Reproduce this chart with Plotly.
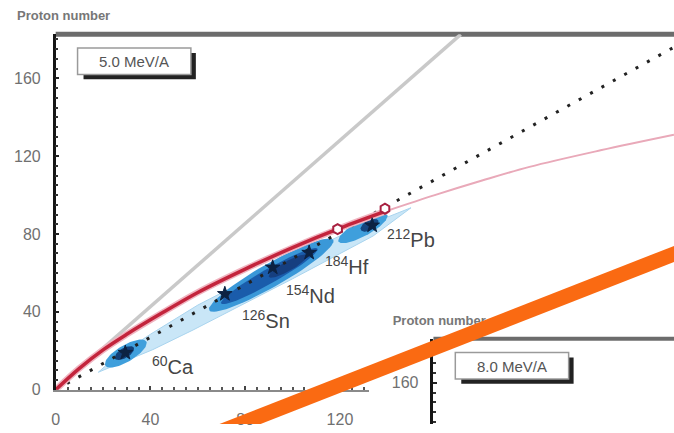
import numpy as np
import plotly.graph_objects as go

W, H = 674, 433
# pixel geometry of the main frame
X0_PX, Y0_PX, TOP_PX = 52, 398, 35
SX = 2.383   # px per neutron
SY = 1.9875  # px per proton
N_MAX = (W - X0_PX) / SX
Z_MAX = (Y0_PX - TOP_PX) / SY

# ---- data -------------------------------------------------------------
# N = Z reference line
nz_n = [0, 171]
nz_z = [0, 182.6]
# dotted guide line
dot_n = [0, 261]
dot_z = [0, 176]
# red curve (thick part, then thin continuation)
red_n = [0, 10, 20, 30, 45, 60, 80, 100, 120, 140]
red_z = [0, 11, 20.5, 28.5, 39.5, 50, 62, 73, 83, 92]
pink_n = [140, 160, 180, 200, 230, 261]
pink_z = [92, 100, 107.5, 114.5, 123, 131]
# open markers on the curve
hex_n = [119, 139]
hex_z = [82.5, 93]
# light band of produced nuclei
band_up_n = [18, 25, 40, 60, 80, 100, 120, 140, 150]
band_up_z = [9, 16.5, 28.5, 43.5, 56, 68, 79, 88.5, 93.5]
band_lo_n = [150, 134, 100, 58, 41, 20, 18]
band_lo_z = [93.5, 79, 57, 30.7, 20.6, 10, 9]
# darker blobs: centre (N, Z), half length / half width in px, tilt in deg
blob_n = [29.6, 91.0, 129.7, 29.0, 90.2, 98.0, 132.5]
blob_z = [18.6, 58.9, 83.0, 18.8, 58.4, 63.5, 84.5]
blob_len = [24, 72, 28, 11, 56, 22, 10]
blob_wid = [8.5, 12, 8, 5, 7.5, 5, 5]
blob_ang = [31, 30, 29, 31, 30, 30, 29]
blob_col = ["#3f9fdc", "#3a98d8", "#3f9fdc", "#123f78", "#1a5cab", "#163f80", "#15457f"]
# nuclei
star_n = [29.4, 71.4, 91.6, 107, 133.6]
star_z = [19, 49.2, 62.8, 70.4, 84.4]
label_text = ["<sup>60</sup>Ca", "<sup>126</sup>Sn", "<sup>154</sup>Nd",
              "<sup>184</sup>Hf", "<sup>212</sup>Pb"]
label_n = [40, 78, 96.5, 113, 139]
label_z = [12.5, 36, 49, 64, 77.5]
# thick orange line crossing the figure
orange_n = [55, 272]
orange_z = [-28.5, 75.0]

x_ticks = [0, 40, 80, 120]
y_ticks = [0, 40, 80, 120, 160]
inset_y_ticks = [160]


def px(x):
    return x / W


def py(y):
    return 1 - y / H


def ellipse(cn, cz, hl, hw, ang, n=72):
    t = np.linspace(0, 2 * np.pi, n)
    a = np.radians(ang)
    u, v = hl * np.cos(t), hw * np.sin(t)
    dx = u * np.cos(a) - v * np.sin(a)
    dy = u * np.sin(a) + v * np.cos(a)
    return cn + dx / SX, cz + dy / SY


fig = go.Figure()

# light band
fig.add_trace(go.Scatter(x=band_up_n + band_lo_n, y=band_up_z + band_lo_z,
                         fill="toself", fillcolor="#c9e6f7", mode="lines",
                         line=dict(color="#a9d4ee", width=1), hoverinfo="skip"))
for cn, cz, hl, hw, ang, col in zip(blob_n, blob_z, blob_len, blob_wid, blob_ang, blob_col):
    ex, ey = ellipse(cn, cz, hl, hw, ang)
    fig.add_trace(go.Scatter(x=ex, y=ey, fill="toself", fillcolor=col, mode="lines",
                             line=dict(color=col, width=0), hoverinfo="skip"))

fig.add_trace(go.Scatter(x=nz_n, y=nz_z, mode="lines",
                         line=dict(color="#c9c9c9", width=3.5)))
fig.add_trace(go.Scatter(x=dot_n, y=dot_z, mode="lines",
                         line=dict(color="#222", width=3, dash="3px,10px")))
fig.add_trace(go.Scatter(x=pink_n, y=pink_z, mode="lines", line_shape="spline",
                         line=dict(color="#e9a9b9", width=2)))
fig.add_trace(go.Scatter(x=red_n, y=red_z, mode="lines", line_shape="spline",
                         line=dict(color="#f0b4c0", width=6.5)))
fig.add_trace(go.Scatter(x=red_n, y=red_z, mode="lines", line_shape="spline",
                         line=dict(color="#c3243c", width=3.5)))
fig.add_trace(go.Scatter(x=hex_n, y=hex_z, mode="markers",
                         marker=dict(symbol="hexagon", size=10, color="white",
                                     line=dict(color="#a82040", width=2))))
fig.add_trace(go.Scatter(x=star_n, y=star_z, mode="markers",
                         marker=dict(symbol="star", size=11, color="#0c2242",
                                     line=dict(color="#0c2242", width=1))))

# bottom axis carrier and inset carrier
fig.add_trace(go.Scatter(x=[], y=[], xaxis="x2", yaxis="y"))
fig.add_trace(go.Scatter(x=[], y=[], xaxis="x3", yaxis="y3"))

# inset title and the orange stroke on a full-figure overlay
fig.add_trace(go.Scatter(x=[(391 - X0_PX) / SX], y=[(Y0_PX - 329) / SY],
                         text=["<b>Proton number</b>"], mode="text",
                         textposition="middle right",
                         textfont=dict(family="Liberation Sans", size=13, color="#777"),
                         xaxis="x4", yaxis="y4"))
fig.add_trace(go.Scatter(x=orange_n, y=orange_z, mode="lines",
                         line=dict(color="#fa6a12", width=15),
                         xaxis="x4", yaxis="y4"))

for t, n, z in zip(label_text, label_n, label_z):
    fig.add_annotation(x=n, y=z, xref="x", yref="y", text=t, showarrow=False,
                       xanchor="left", yanchor="middle",
                       font=dict(family="Liberation Sans", size=20, color="#454545"))

tickfont = dict(family="Liberation Sans", size=16, color="#707070")
inv = dict(visible=False, showgrid=False, zeroline=False)

fig.update_layout(
    width=W, height=H, margin=dict(l=0, r=0, t=0, b=0),
    paper_bgcolor="white", plot_bgcolor="rgba(0,0,0,0)", showlegend=False,
    xaxis=dict(domain=[px(X0_PX), 1], range=[0, N_MAX], anchor="y", **inv),
    yaxis=dict(domain=[py(Y0_PX), py(TOP_PX)], range=[0, Z_MAX], anchor="x2",
               showline=True, linecolor="#151515", linewidth=2.5,
               ticks="inside", ticklen=4, tickwidth=2, tickcolor="#222",
               tickvals=y_ticks, tickfont=tickfont, ticklabelstandoff=9,
               minor=dict(dtick=5, ticks="inside", ticklen=3, tickcolor="#333"),
               showgrid=False, zeroline=False),
    xaxis2=dict(domain=[px(X0_PX), px(367)], range=[0, (367 - X0_PX) / SX], anchor="y",
                showline=True, linecolor="#8a8a8a", linewidth=2,
                ticks="inside", ticklen=4, tickwidth=2, tickcolor="#444",
                tickvals=x_ticks, tickfont=tickfont, ticklabelstandoff=14,
                minor=dict(dtick=5, ticks="inside", ticklen=3, tickcolor="#555"),
                showgrid=False, zeroline=False),
    xaxis3=dict(domain=[px(432), 1], range=[0, (W - 432) / SX], anchor="y3", **inv),
    yaxis3=dict(domain=[0, py(346)], range=[Z_MAX - (H - 346) / SY, Z_MAX], anchor="x3",
                showline=True, linecolor="#151515", linewidth=2.5,
                ticks="inside", ticklen=4, tickwidth=2, tickcolor="#222",
                tickvals=inset_y_ticks, tickfont=tickfont, ticklabelstandoff=9,
                minor=dict(dtick=5, ticks="inside", ticklen=3, tickcolor="#333"),
                showgrid=False, zeroline=False),
    xaxis4=dict(domain=[0, 1], range=[-X0_PX / SX, N_MAX], anchor="y4", **inv),
    yaxis4=dict(domain=[0, 1], range=[-(H - Y0_PX) / SY, Y0_PX / SY], anchor="x4", **inv),
)

# frames and energy boxes
fig.add_shape(type="line", xref="paper", yref="paper", x0=px(X0_PX), x1=1,
              y0=py(TOP_PX), y1=py(TOP_PX), line=dict(color="#6c6c6c", width=5), layer="below")
fig.add_shape(type="line", xref="paper", yref="paper", x0=px(432), x1=1,
              y0=py(346), y1=py(346), line=dict(color="#6c6c6c", width=4), layer="below")


def energy_box(x0, y0, label):
    fig.add_shape(type="rect", xref="paper", yref="paper",
                  x0=px(x0 + 6), x1=px(x0 + 119), y0=py(y0 + 5), y1=py(y0 + 32),
                  fillcolor="#222", line=dict(width=0), layer="above")
    fig.add_shape(type="rect", xref="paper", yref="paper",
                  x0=px(x0), x1=px(x0 + 114), y0=py(y0), y1=py(y0 + 27),
                  fillcolor="white", line=dict(color="#9a9a9a", width=1.5), layer="above")
    fig.add_annotation(x=px(x0 + 57), y=py(y0 + 14), xref="paper", yref="paper",
                       text=label, showarrow=False, xanchor="center", yanchor="middle",
                       font=dict(family="Liberation Sans", size=15, color="#555"))


energy_box(74, 49, "5.0 MeV/A")
energy_box(454, 360, "8.0 MeV/A")

fig.add_annotation(x=px(11), y=py(16), xref="paper", yref="paper",
                   text="<b>Proton number</b>", showarrow=False,
                   xanchor="left", yanchor="middle",
                   font=dict(family="Liberation Sans", size=13, color="#777"))

fig.write_html("out.html")
